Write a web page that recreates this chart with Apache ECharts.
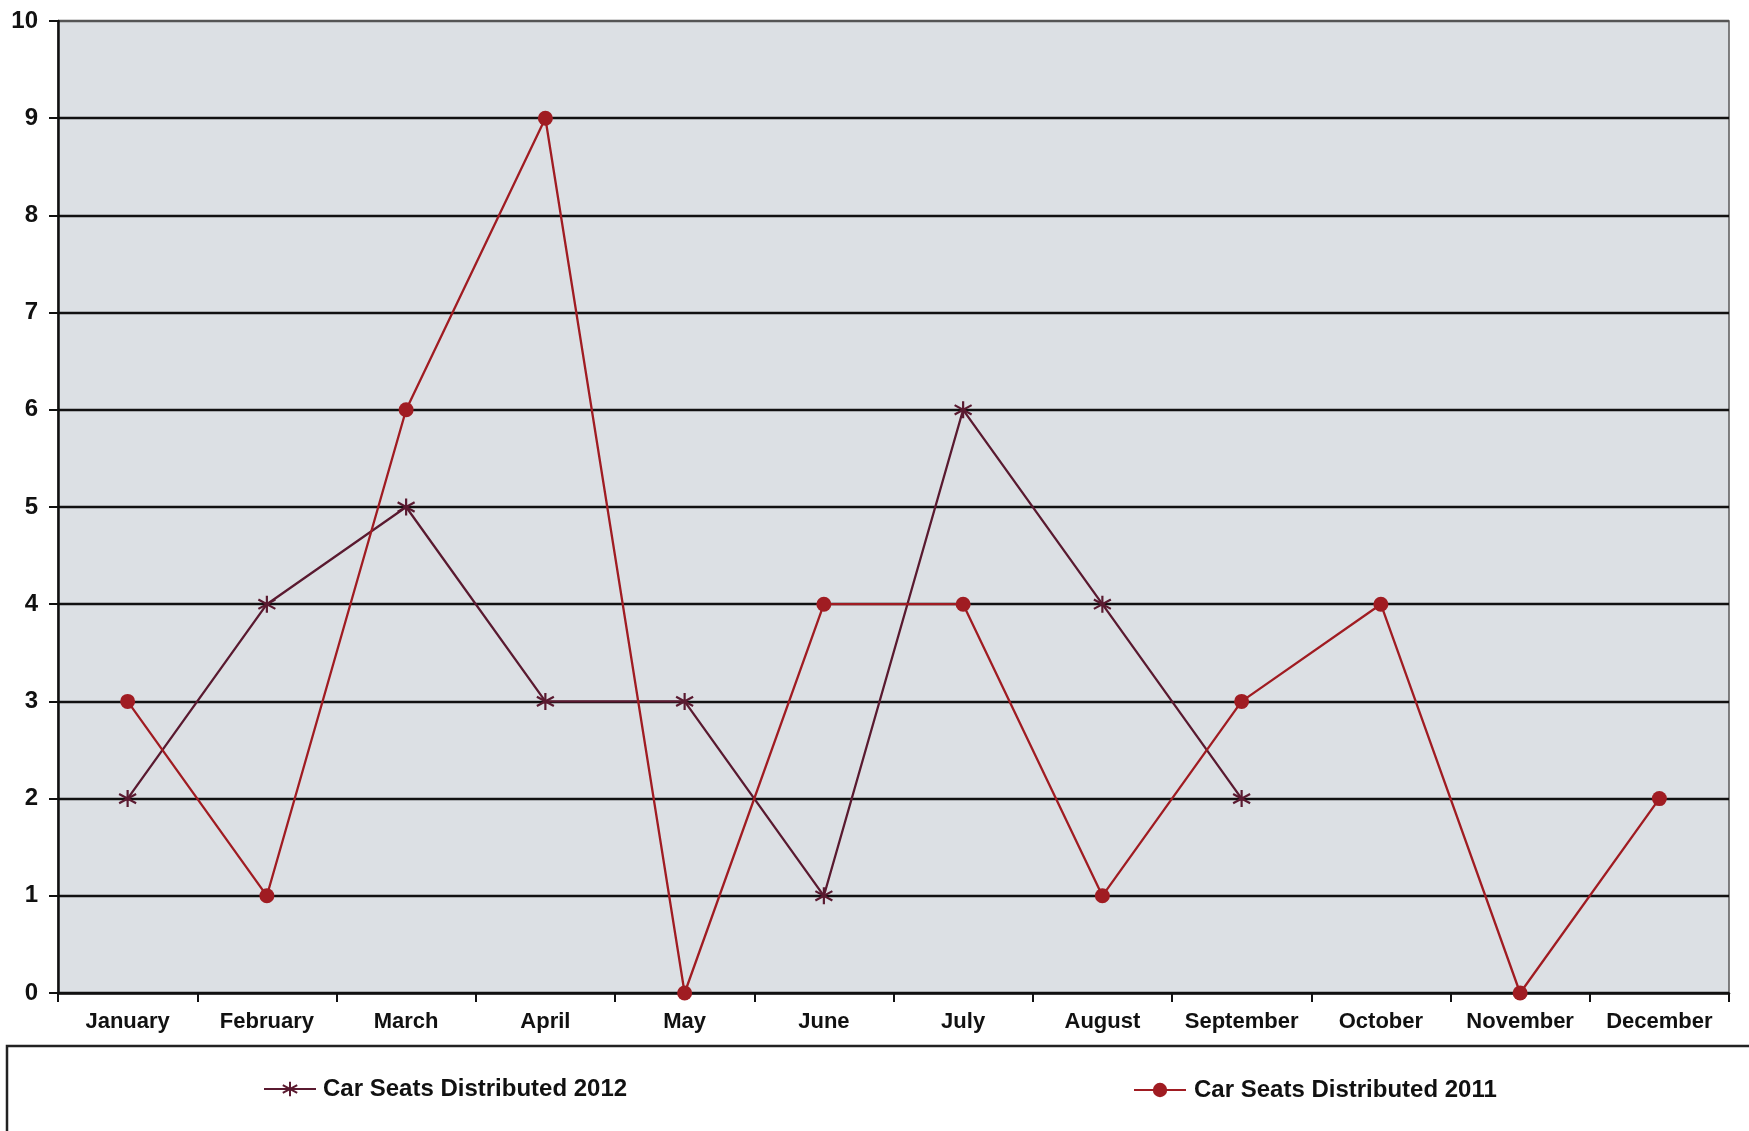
<!DOCTYPE html>
<html><head><meta charset="utf-8">
<script src="https://cdn.jsdelivr.net/npm/echarts@6/dist/echarts.min.js"></script>
<style>html,body{margin:0;padding:0;background:#fff;}#c{width:1749px;height:1131px;}</style>
</head><body><div id="c"></div>
<script>
const months = ['January','February','March','April','May','June','July','August','September','October','November','December'];
const seats2012 = [2,4,5,3,3,1,6,4,2,null,null,null];
const seats2011 = [3,1,6,9,0,4,4,1,3,4,0,2];
const yTicks = {min:0, max:10, interval:1};
const name2012 = 'Car Seats Distributed 2012';
const name2011 = 'Car Seats Distributed 2011';

const c2012 = '#5a1a30';
const c2011 = '#a01c22';
const asterisk = 'path://M10,0 L10,20 M1.5,4.5 L18.5,15.5 M18.5,4.5 L1.5,15.5';
const font = 'Liberation Sans, Arial, sans-serif';

const chart = echarts.init(document.getElementById('c'));
chart.setOption({
  backgroundColor:'#ffffff',
  animation:false,
  grid:{left:58, top:21, right:20, bottom:138, show:true, backgroundColor:'#dce0e4', borderColor:'#5a5a5a', borderWidth:1.5},
  graphic:[{type:'rect', shape:{x:7, y:1046, width:1760, height:120}, style:{fill:'#fff', stroke:'#222', lineWidth:2.5}, z:-1}],
  legend:[
    {data:[name2012], left:263, top:1077, padding:0, itemWidth:52, itemHeight:18, itemGap:0,
     textStyle:{fontFamily:font, fontWeight:'bold', fontSize:24, color:'#111', padding:[0,0,0,2]}},
    {data:[name2011], left:1133, top:1078, padding:0, itemWidth:52, itemHeight:18, itemGap:0,
     textStyle:{fontFamily:font, fontWeight:'bold', fontSize:24, color:'#111', padding:[0,0,0,3]}}
  ],
  xAxis:{type:'category', data:months, boundaryGap:true,
    axisLine:{lineStyle:{color:'#111', width:2.5}},
    axisTick:{show:true, length:9, lineStyle:{color:'#111', width:2}},
    axisLabel:{margin:18, fontFamily:font, fontWeight:'bold', fontSize:22, color:'#111', interval:0},
    splitLine:{show:false}},
  yAxis:{type:'value', min:yTicks.min, max:yTicks.max, interval:yTicks.interval,
    axisLine:{show:true, lineStyle:{color:'#111', width:2.5}},
    axisTick:{show:true, length:9, lineStyle:{color:'#111', width:2}},
    axisLabel:{margin:20, fontFamily:font, fontWeight:'bold', fontSize:24, color:'#111'},
    splitLine:{show:true, lineStyle:{color:['#111','#111','#111','#111','#111','#111','#111','#111','#111','#111','#555'], width:2.3}}},
  series:[
    {name:name2012, type:'line', data:seats2012, connectNulls:false,
     symbol:asterisk, symbolSize:17, showAllSymbol:true,
     lineStyle:{color:c2012, width:2.3},
     itemStyle:{color:c2012, borderColor:c2012, borderWidth:2.2}, z:3},
    {name:name2011, type:'line', data:seats2011,
     symbol:'circle', symbolSize:15, showAllSymbol:true,
     lineStyle:{color:c2011, width:2.3},
     itemStyle:{color:c2011, borderColor:c2011, borderWidth:0}, z:4}
  ]
});
</script></body></html>
